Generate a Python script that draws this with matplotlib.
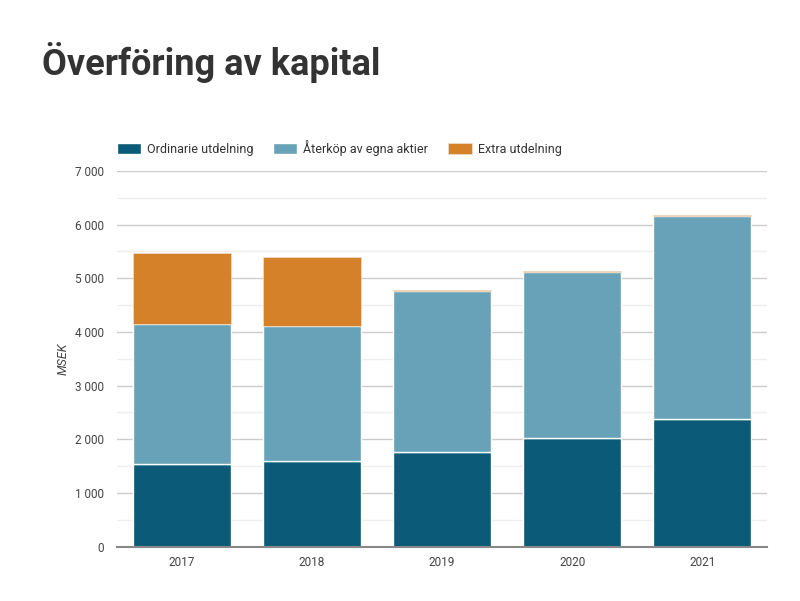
import numpy as np
import matplotlib.pyplot as plt
from matplotlib.ticker import FuncFormatter, MultipleLocator

plt.rcParams['font.family'] = ['Roboto', 'DejaVu Sans']

years = ['2017', '2018', '2019', '2020', '2021']
ordinarie = [1540, 1601, 1770, 2019, 2372]
aterkop = [2605, 2514, 2995, 3095, 3785]
extra = [1321, 1280, 20, 25, 25]

c_ord = '#0b5a77'
c_ater = '#68a2b8'
c_extra = '#d4812a'

fig = plt.figure(figsize=(8, 6.01), dpi=100)
ax = fig.add_axes([0.146, 0.0903, 0.813, 0.6255])

x = np.arange(len(years))
ord_arr = np.array(ordinarie)
ater_arr = np.array(aterkop)
ax.bar(x, ord_arr, 0.75, color=c_ord, edgecolor='white', linewidth=1, label='Ordinarie utdelning', zorder=3)
ax.bar(x, ater_arr, 0.75, bottom=ord_arr, color=c_ater, edgecolor='white', linewidth=1, label='Återköp av egna aktier', zorder=3)
ax.bar(x, extra, 0.75, bottom=ord_arr + ater_arr, color=c_extra, edgecolor='#f3e6d6', linewidth=0.4, label='Extra utdelning', zorder=3)

ax.set_xlim(-0.5, 4.5)
ax.set_ylim(0, 7000)
ax.set_xticks(x)
ax.set_xticklabels(years)
ax.yaxis.set_major_locator(MultipleLocator(1000))
ax.yaxis.set_minor_locator(MultipleLocator(500))
ax.yaxis.set_major_formatter(FuncFormatter(lambda v, p: f'{int(v):,}'.replace(',', ' ')))
ax.grid(axis='y', which='major', color='#cccccc', linewidth=1, zorder=0)
ax.grid(axis='y', which='minor', color='#eeeeee', linewidth=1, zorder=0)
ax.tick_params(axis='both', which='both', length=0, labelsize=8.5, colors='#444444')
ax.tick_params(axis='y', pad=9)
ax.tick_params(axis='x', pad=7)
for s in ['top', 'right', 'left']:
    ax.spines[s].set_visible(False)
ax.spines['bottom'].set_color('#888888')
ax.spines['bottom'].set_linewidth(1.5)
ax.spines['bottom'].set_zorder(4)
ax.set_ylabel('MSEK', fontsize=9, style='italic', color='#444444', labelpad=4)

ax.legend(loc='lower left', bbox_to_anchor=(0.0, 1.04), ncol=3, frameon=False,
          fontsize=9, handlelength=1.9, handleheight=0.9, columnspacing=1.6,
          handletextpad=0.5, borderaxespad=0, borderpad=0, labelcolor='#333333')

fig.text(0.053, 0.875, 'Överföring av kapital', fontsize=26, fontweight='bold', color='#333333')

fig.savefig('out.png', dpi=100)
